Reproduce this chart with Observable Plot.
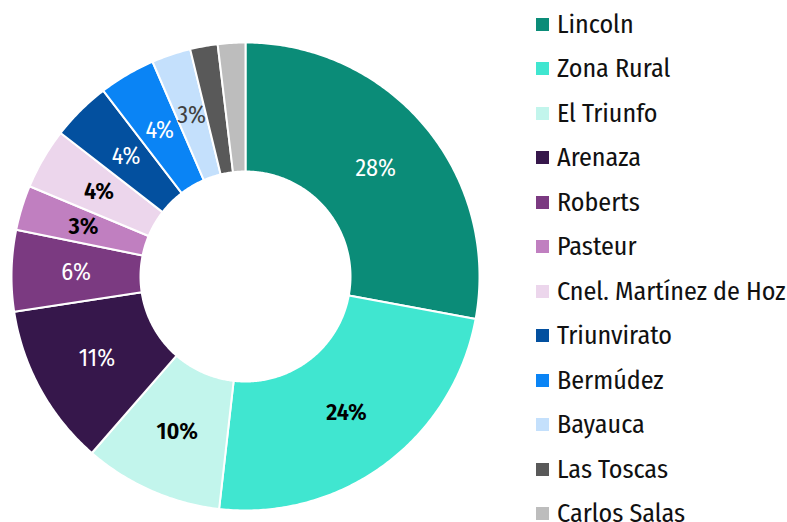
<!DOCTYPE html>
<html>
<head>
<meta charset="utf-8">
<script src="https://cdn.jsdelivr.net/npm/d3@7"></script>
<script src="https://cdn.jsdelivr.net/npm/@observablehq/plot@0.6"></script>
<style>
  html, body { margin: 0; padding: 0; background: #fff; }
  #wrap { position: relative; width: 787px; height: 522px; overflow: hidden;
          font-family: "Fira Sans Condensed", "Roboto Condensed", sans-serif; }
  #legend { position: absolute; left: 536px; top: 0; }
  .item { position: absolute; left: 0; height: 30px; display: flex; align-items: center; white-space: nowrap;
          font-size: 26px; color: #111; }
  .sw { width: 13px; height: 13px; margin-right: 8px; flex: none; }
</style>
</head>
<body>
<div id="wrap"><div id="chart"></div><div id="legend"></div></div>
<script>
const categories = ["Lincoln", "Zona Rural", "El Triunfo", "Arenaza", "Roberts", "Pasteur",
  "Cnel. Martínez de Hoz", "Triunvirato", "Bermúdez", "Bayauca", "Las Toscas", "Carlos Salas"];
const shares = [27.9, 23.9, 9.6, 11.2, 5.6, 3.1, 4.2, 4.1, 3.9, 2.7, 1.9, 1.9];
const colors = ["#0b8c78", "#40e6d0", "#c2f5ec", "#36174b", "#7b3a81", "#c07fc0",
  "#ecd6ec", "#03509f", "#0a84f5", "#c4e0fc", "#595959", "#bdbdbd"];

const data = categories.map((name, i) => ({name, value: shares[i]}));
const total = d3.sum(shares);
const arcs = d3.pie().sort(null).value(d => d.value)(data);

const R = 1, r0 = 105 / 234, rm = (R + r0) / 2;
const pts = [];
for (const a of arcs) {
  const n = Math.max(2, Math.ceil((a.endAngle - a.startAngle) / 0.01));
  for (let k = 0; k <= n; k++) {
    const t = a.startAngle + (a.endAngle - a.startAngle) * k / n;
    pts.push({name: a.data.name, x: R * Math.sin(t), y: R * Math.cos(t)});
  }
  for (let k = n; k >= 0; k--) {
    const t = a.startAngle + (a.endAngle - a.startAngle) * k / n;
    pts.push({name: a.data.name, x: r0 * Math.sin(t), y: r0 * Math.cos(t)});
  }
}
const labels = arcs.filter(a => a.data.value / total >= 0.025).map(a => {
  const m = (a.startAngle + a.endAngle) / 2;
  const col = colors[categories.indexOf(a.data.name)];
  const light = d3.lab(col).l > 60;
  const gray = a.data.name === "Bayauca";
  return {
    x: rm * Math.sin(m), y: rm * Math.cos(m),
    text: Math.round(a.data.value / total * 100) + "%",
    ink: gray ? "#404040" : (light ? "#000" : "#fff"),
    weight: light && !gray ? 600 : 400
  };
});

const cx = 245, cy = 276, rad = 234;
const textOpts = {x: "x", y: "y", text: "text", fill: d => d.ink, fontSize: 24};
const chart = Plot.plot({
  width: 787, height: 522,
  margin: 0,
  x: {domain: [-1, 1], range: [cx - rad, cx + rad], axis: null},
  y: {domain: [-1, 1], range: [cy + rad, cy - rad], axis: null},
  color: {domain: categories, range: colors},
  style: {fontFamily: "'Fira Sans Condensed', 'Roboto Condensed', sans-serif"},
  marks: [
    Plot.line(pts, {x: "x", y: "y", z: "name", fill: "name", stroke: "white", strokeWidth: 2,
      curve: "linear-closed", strokeLinejoin: "round"}),
    Plot.text(labels.filter(d => d.weight === 400), {...textOpts, fontWeight: 400}),
    Plot.text(labels.filter(d => d.weight === 600), {...textOpts, fontWeight: 600})
  ]
});
document.getElementById("chart").appendChild(chart);

const legend = document.getElementById("legend");
categories.forEach((name, i) => {
  const row = document.createElement("div");
  row.className = "item";
  row.style.top = (24 + i * 44.5 - 15) + "px";
  const sw = document.createElement("span");
  sw.className = "sw";
  sw.style.background = colors[i];
  const tx = document.createElement("span");
  tx.textContent = name;
  row.appendChild(sw);
  row.appendChild(tx);
  legend.appendChild(row);
});
</script>
</body>
</html>
